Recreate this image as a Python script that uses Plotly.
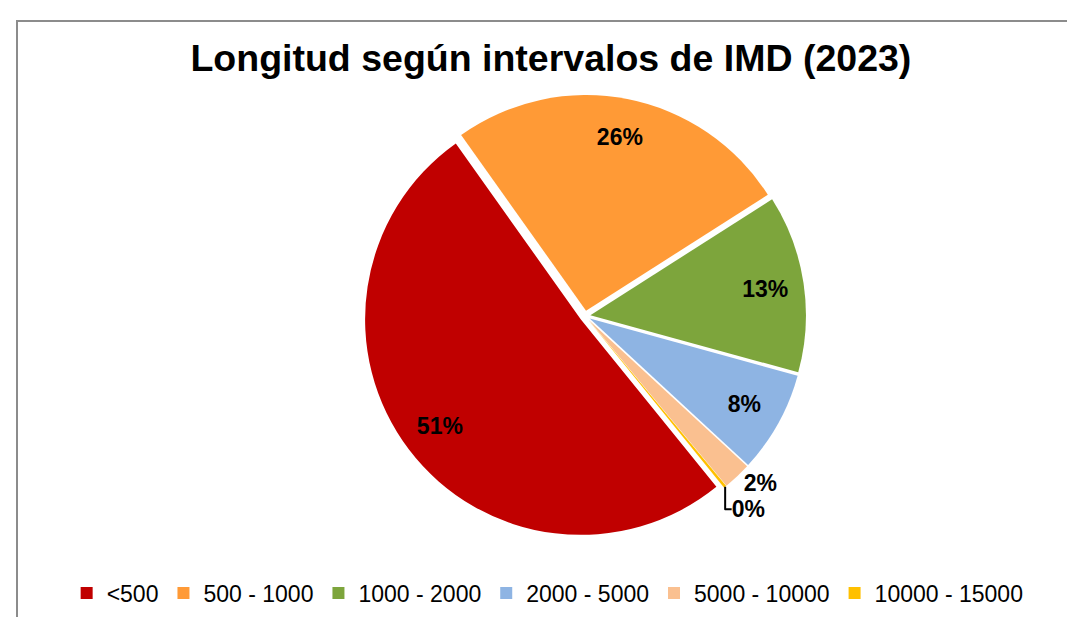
"""
Pie chart: Longitud según intervalos de IMD (2023)
"""

import plotly.graph_objects as go

# intervalos de IMD y su peso en la longitud (%)
categorias = ["<500", "500 - 1000", "1000 - 2000", "2000 - 5000", "5000 - 10000", "10000 - 15000"]
porcentajes = [51.0, 25.8, 13.3, 7.6, 2.1, 0.2]
colores = ["#C00000", "#FF9A36", "#7DA53C", "#8EB4E3", "#FAC090", "#FFC000"]

W, H = 1075, 617
FONT = "Arial, Liberation Sans, sans-serif"

# posición del pie en píxeles (centro y medio lado del dominio, aprox.)
cx, cy, R = 577, 308, 221
dominio = dict(x=[(cx - R) / W, (cx + R) / W], y=[1 - (cy + R) / H, 1 - (cy - R) / H])
pull = [0.025] * len(categorias)

# sectores coloreados
sectores = go.Pie(
    labels=categorias,
    values=porcentajes,
    sort=False,
    direction="clockwise",
    rotation=141,
    pull=pull,
    marker=dict(colors=colores, line=dict(color="white", width=0)),
    textinfo="none",
    domain=dominio,
    hoverinfo="label+percent",
)

# misma tarta, transparente y con hueco, sólo para colocar las etiquetas
# hacia el borde como en Excel
etiquetas = go.Pie(
    labels=categorias,
    values=porcentajes,
    sort=False,
    direction="clockwise",
    rotation=141,
    pull=pull,
    hole=0.64,
    marker=dict(colors=["rgba(0,0,0,0)"] * len(categorias), line=dict(width=0)),
    texttemplate="%{percent:.0%}",
    textposition=["inside", "inside", "inside", "inside", "outside", "outside"],
    insidetextorientation="horizontal",
    textfont=dict(family=FONT, size=23, color="black", weight="bold"),
    outsidetextfont=dict(family=FONT, size=23, color="black", weight="bold"),
    domain=dominio,
    showlegend=False,
    hoverinfo="skip",
)

fig = go.Figure([sectores, etiquetas])

fig.update_layout(
    width=W,
    height=H,
    margin=dict(l=0, r=0, t=0, b=0),
    paper_bgcolor="white",
    title=dict(
        text="<b>Longitud según intervalos de IMD (2023)</b>",
        font=dict(family=FONT, size=37.5, color="black"),
        x=0.505, xanchor="center", y=1 - 50 / H, yanchor="middle",
    ),
    legend=dict(
        orientation="h",
        x=0.502, xanchor="center",
        y=1 - 585 / H, yanchor="middle",
        font=dict(family=FONT, size=23, color="black"),
        itemwidth=30,
        traceorder="normal",
    ),
    showlegend=True,
    shapes=[
        # marco gris del gráfico (se sale por la derecha y por abajo)
        dict(type="rect", xref="paper", yref="paper",
             x0=9 / W, x1=1.02, y0=-0.02, y1=1 - 13 / H,
             line=dict(color="#8C8C8C", width=2), layer="below"),
    ],
)

fig.write_html("out.html")
